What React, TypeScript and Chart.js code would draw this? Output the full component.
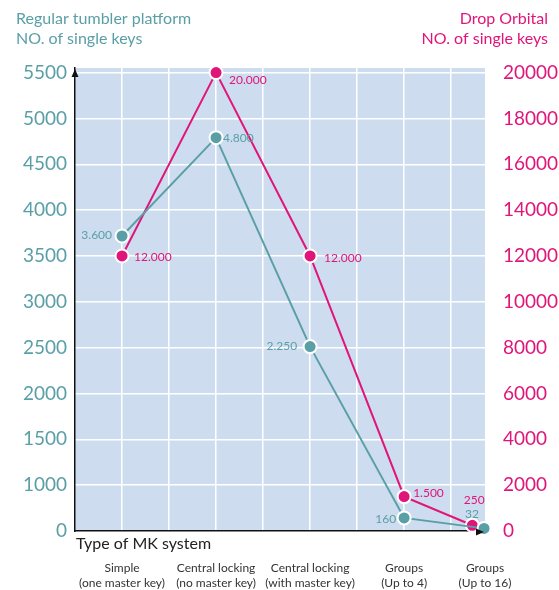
import React, { useEffect, useRef } from "react";
import { Chart, registerables } from "chart.js";

Chart.register(...registerables);

// ---- data ----
const categories: string[][] = [
  ["Simple", "(one master key)"],
  ["Central locking", "(no master key)"],
  ["Central locking", "(with master key)"],
  ["Groups", "(Up to 4)"],
  ["Groups", "(Up to 16)"],
];
const categoryPos = [1, 3, 5, 7, 8.72];
const xGridValues = [0, 1, 2, 3, 4, 5, 6, 7, 8, 8.72];

const tumblerKeys = [3600, 4800, 2250, 160, 32];
const tumblerPos = [1, 3, 5, 7, 8.7];
const tumblerLabels = ["3.600", "4.800", "2.250", "160", "32"];

const orbitalKeys = [12000, 20000, 12000, 1500, 250];
const orbitalPos = [1, 3, 5, 7, 8.45];
const orbitalLabels = ["12.000", "20.000", "12.000", "1.500", "250"];

const leftTickLabels = ["0", "1000", "1500", "2000", "2500", "3000", "3500", "4000", "4500", "5000", "5500"];
const rightTickValues = [0, 2000, 4000, 6000, 8000, 10000, 12000, 14000, 16000, 18000, 20000];

const LEFT_MAX = 5650;
const RIGHT_MAX = 20200;
const X_MAX = 8.72;

// ---- style ----
const TEAL = "#5a9fa6";
const PINK = "#e0157a";
const BG = "#cddcee";
const FONT = "Lato, 'Open Sans', sans-serif";

// label offsets (style only): [dx, dy, align]
const tumblerLabelStyle: [number, number, CanvasTextAlign][] = [
  [-10, -1, "right"],
  [7, 0, "left"],
  [-13, 0, "right"],
  [-8, 1, "right"],
  [-12, -14, "center"],
];
const orbitalLabelStyle: [number, number, CanvasTextAlign][] = [
  [12, 1, "left"],
  [13, 8, "left"],
  [14, 2, "left"],
  [9, -3, "left"],
  [2, -25, "center"],
];

const backgroundPlugin = {
  id: "plotBg",
  beforeDraw(chart: any) {
    const { ctx, chartArea } = chart;
    ctx.save();
    ctx.fillStyle = BG;
    ctx.fillRect(chartArea.left, chartArea.top, chartArea.right - chartArea.left, chartArea.bottom - chartArea.top);
    ctx.restore();
  },
};

const decorPlugin = {
  id: "decor",
  afterDraw(chart: any) {
    const { ctx, chartArea } = chart;
    ctx.save();
    // arrows
    ctx.fillStyle = "#111";
    const lx = chartArea.left;
    const ty = chartArea.top;
    ctx.beginPath();
    ctx.moveTo(lx, ty + 1);
    ctx.lineTo(lx - 3.5, ty + 9);
    ctx.lineTo(lx + 3.5, ty + 9);
    ctx.closePath();
    ctx.fill();
    const rx = chartArea.right - 1;
    const by = chartArea.bottom + 1;
    ctx.beginPath();
    ctx.moveTo(rx, by);
    ctx.lineTo(rx - 8, by - 3.5);
    ctx.lineTo(rx - 8, by + 3.5);
    ctx.closePath();
    ctx.fill();

    // titles
    ctx.textBaseline = "middle";
    ctx.font = `16px ${FONT}`;
    ctx.fillStyle = TEAL;
    ctx.textAlign = "left";
    ctx.fillText("Regular tumbler platform", 16, 19);
    ctx.fillText("NO. of single keys", 16, 39);
    ctx.fillStyle = PINK;
    ctx.textAlign = "right";
    ctx.fillText("Drop Orbital", 548, 19);
    ctx.fillText("NO. of single keys", 548, 39);

    // axis title
    ctx.fillStyle = "#222";
    ctx.textAlign = "left";
    ctx.fillText("Type of MK system", chartArea.left + 1, chartArea.bottom + 13);

    // point labels
    ctx.font = `12px ${FONT}`;
    const sets: [number, string[], [number, number, CanvasTextAlign][], string][] = [
      [0, tumblerLabels, tumblerLabelStyle, TEAL],
      [1, orbitalLabels, orbitalLabelStyle, PINK],
    ];
    sets.forEach(([di, labels, style, color]) => {
      const meta = chart.getDatasetMeta(di);
      ctx.fillStyle = color;
      meta.data.forEach((pt: any, i: number) => {
        const [dx, dy, align] = style[i];
        ctx.textAlign = align;
        ctx.fillText(labels[i], pt.x + dx, pt.y + dy);
      });
    });
    ctx.restore();
  },
};

export default function App() {
  const ref = useRef<HTMLCanvasElement>(null);
  useEffect(() => {
    document.body.style.margin = "0";
    const chart = new Chart(ref.current as HTMLCanvasElement, {
      type: "line",
      data: {
        datasets: [
          {
            label: "Regular tumbler platform",
            data: tumblerPos.map((x, i) => ({ x, y: tumblerKeys[i] })),
            yAxisID: "y",
            borderColor: TEAL,
            backgroundColor: TEAL,
            pointBackgroundColor: TEAL,
            pointBorderColor: "#ffffff",
            pointBorderWidth: 2,
            pointRadius: 6.5,
            borderWidth: 2,
            clip: false as any,
          },
          {
            label: "Drop Orbital",
            data: orbitalPos.map((x, i) => ({ x, y: orbitalKeys[i] })),
            yAxisID: "y1",
            borderColor: PINK,
            backgroundColor: PINK,
            pointBackgroundColor: PINK,
            pointBorderColor: "#ffffff",
            pointBorderWidth: 2,
            pointRadius: 6.5,
            borderWidth: 2,
            clip: false as any,
          },
        ],
      },
      options: {
        animation: false,
        responsive: false,
        layout: { padding: { top: 68, left: 0, right: 0, bottom: 0 } },
        plugins: { legend: { display: false }, tooltip: { enabled: false } },
        scales: {
          x: {
            type: "linear",
            min: 0,
            max: X_MAX,
            afterBuildTicks: (s: any) => {
              s.ticks = xGridValues.map((v) => ({ value: v }));
            },
            afterFit: (s: any) => {
              s.height = 59;
            },
            ticks: {
              autoSkip: false,
              maxRotation: 0,
              padding: 30,
              color: "#333",
              font: { family: FONT, size: 12, lineHeight: 1.25 },
              callback: (v: any) => {
                const idx = categoryPos.findIndex((c) => Math.abs(c - Number(v)) < 1e-6);
                return idx >= 0 ? categories[idx] : "";
              },
            },
            grid: {
              drawTicks: false,
              lineWidth: 1.5,
              color: (c: any) =>
                c.tick && (c.tick.value === 0 || c.tick.value === X_MAX) ? "rgba(0,0,0,0)" : "#ffffff",
            },
            border: { color: "#111", width: 1.5 },
          },
          y: {
            type: "linear",
            position: "left",
            min: 0,
            max: LEFT_MAX,
            afterBuildTicks: (s: any) => {
              s.ticks = leftTickLabels.map((_, k) => ({ value: (k * 2000 * LEFT_MAX) / RIGHT_MAX }));
            },
            afterFit: (s: any) => {
              s.width = 75;
            },
            ticks: {
              padding: 8,
              color: TEAL,
              font: { family: FONT, size: 19 },
              callback: (_v: any, i: number) => leftTickLabels[i],
            },
            grid: { display: false, drawTicks: false },
            border: { color: "#111", width: 1.5 },
          },
          y1: {
            type: "linear",
            position: "right",
            min: 0,
            max: RIGHT_MAX,
            afterBuildTicks: (s: any) => {
              s.ticks = rightTickValues.map((v) => ({ value: v }));
            },
            afterFit: (s: any) => {
              s.width = 74;
            },
            ticks: {
              padding: 18,
              color: PINK,
              font: { family: FONT, size: 19 },
              callback: (v: any) => String(v),
            },
            grid: {
              drawTicks: false,
              lineWidth: 1.5,
              color: (c: any) => (c.tick && c.tick.value === 0 ? "rgba(0,0,0,0)" : "#ffffff"),
            },
            border: { display: false },
          },
        },
      },
      plugins: [backgroundPlugin, decorPlugin],
    });
    return () => chart.destroy();
  }, []);
  return <canvas ref={ref} width={559} height={590} style={{ display: "block" }} />;
}
